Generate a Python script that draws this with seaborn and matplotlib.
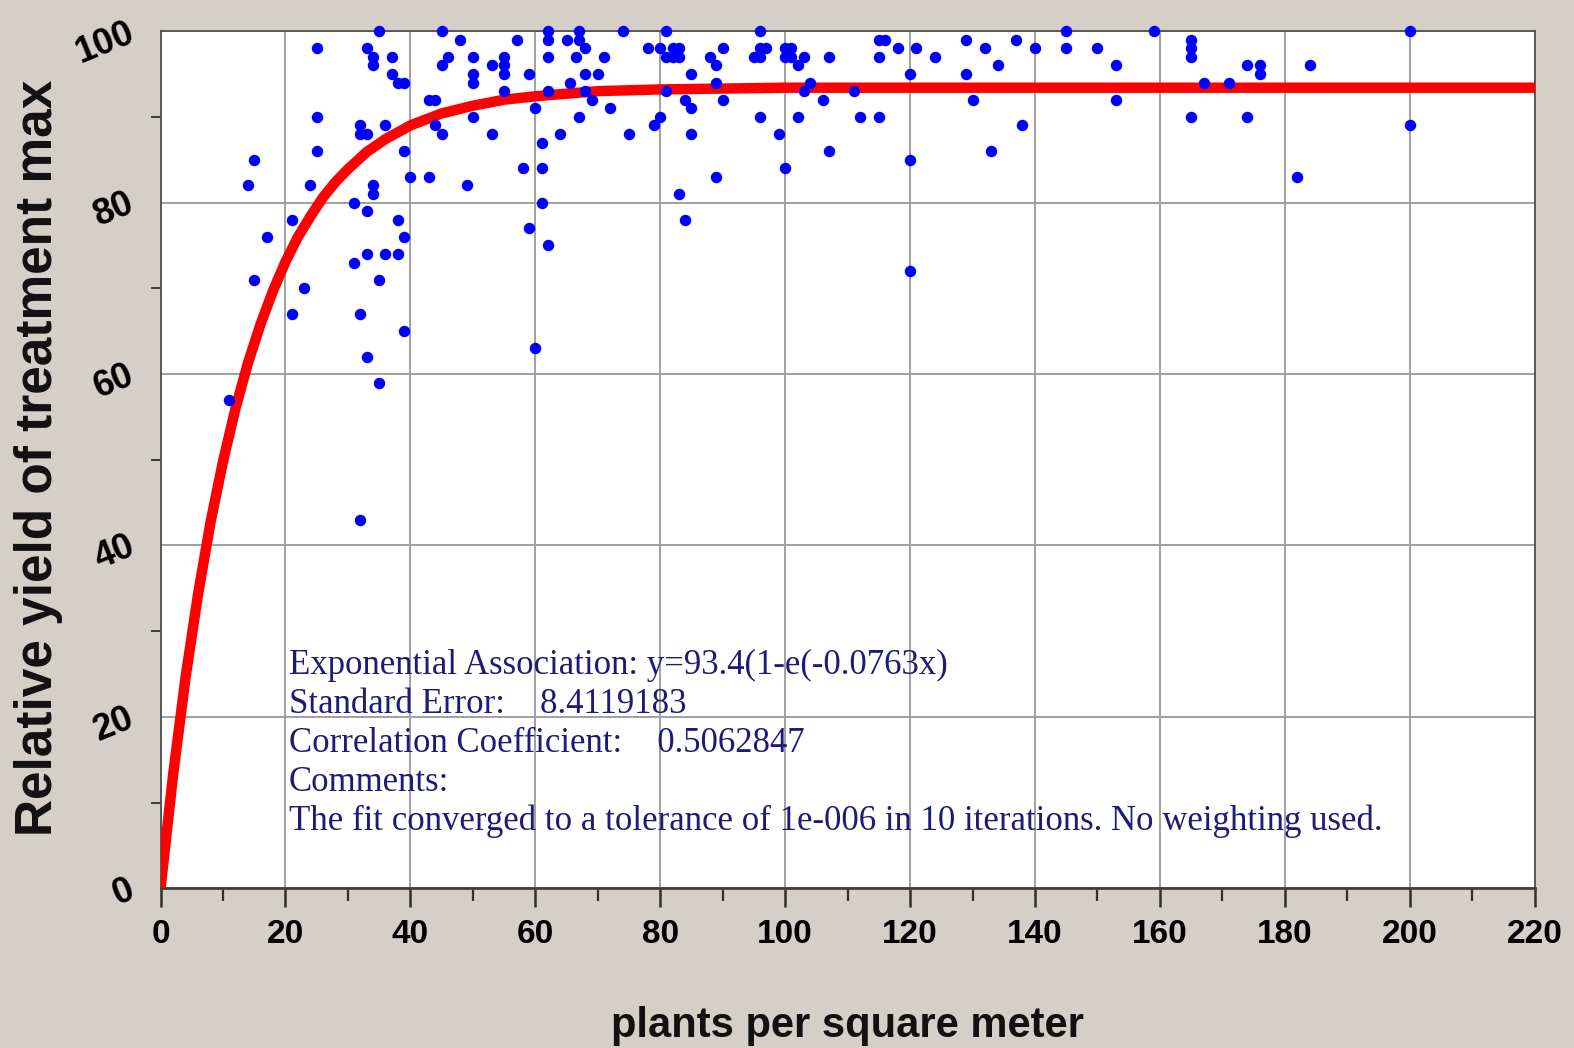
import numpy as np
import pandas as pd
import matplotlib
matplotlib.use('Agg')
import matplotlib.pyplot as plt
import seaborn as sns

# observed points (plants per m2, relative yield %)
density = [11, 14, 15, 15, 17, 21, 21, 23, 24, 25, 25, 25,
           31, 31, 32, 32, 32, 32, 33, 33, 33, 33, 33, 34, 34, 34, 34,
           35, 35, 35, 36, 36, 37, 37, 38, 38, 38, 39, 39, 39, 39, 40,
           43, 43, 44, 44, 45, 45, 45, 46, 48, 49, 50, 50, 50, 50, 53, 53,
           55, 55, 55, 55, 57, 58, 59, 59, 60, 60, 61, 61, 61, 62, 62, 62, 62, 62,
           64, 65, 65.5, 66.5, 67, 67, 67, 68, 68, 68, 69, 70, 71, 72, 74, 75,
           78, 79, 80, 80, 81, 81, 81, 82, 82, 83, 83, 83, 84, 84, 85, 85, 85,
           88, 89, 89, 89, 90, 90, 95, 96, 96, 96, 96, 97, 99, 100, 100, 100,
           101, 101, 102, 102, 103, 103, 104, 106, 107, 107, 111, 112, 115, 116,
           115, 115, 118, 120, 120, 120, 121, 124, 129, 129, 130, 132, 133, 134,
           137, 138, 140, 145, 145, 150, 153, 153, 159, 165, 165, 165, 165, 167,
           171, 174, 174, 176, 176, 182, 184, 200, 200]
rel_yield = [57, 82, 85, 71, 76, 78, 67, 70, 82, 98, 90, 86,
             80, 73, 67, 89, 43, 88, 79, 98, 74, 62, 88, 81, 82, 97, 96,
             100, 59, 71, 74, 89, 97, 95, 74, 78, 94, 94, 86, 76, 65, 83,
             83, 92, 92, 89, 88, 100, 96, 97, 99, 82, 90, 97, 95, 94, 88, 96,
             97, 96, 95, 93, 99, 84, 95, 77, 63, 91, 80, 84, 87, 75, 100, 99, 97, 93,
             88, 99, 94, 97, 100, 90, 99, 98, 95, 93, 92, 95, 97, 91, 100, 88,
             98, 89, 90, 98, 100, 97, 93, 98, 97, 98, 97, 81, 92, 78, 95, 91, 88,
             97, 83, 96, 94, 92, 98, 97, 97, 100, 98, 90, 98, 88, 98, 97, 84,
             97, 98, 90, 96, 97, 93, 94, 92, 97, 86, 93, 90, 99, 99,
             97, 90, 98, 95, 85, 72, 98, 97, 99, 95, 92, 98, 86, 96,
             99, 89, 98, 100, 98, 98, 96, 92, 100, 99, 98, 97, 90, 94,
             94, 96, 90, 96, 95, 83, 96, 100, 89]

# fitted curve: y = 93.4(1-e(-0.0763x))
fit_x = [0, 2, 4, 6, 8, 10, 12, 14, 16, 18, 20, 22, 24, 26, 28, 30, 33, 36,
         40, 45, 50, 55, 60, 70, 80, 100, 120, 160, 200, 220]
fit_y = [0, 13.2, 24.6, 34.3, 42.7, 49.8, 56.0, 61.3, 65.8, 69.7, 73.1, 76.0,
         78.4, 80.6, 82.4, 83.9, 85.9, 87.4, 89.0, 90.4, 91.3, 92.0, 92.4, 93.0,
         93.2, 93.4, 93.4, 93.4, 93.4, 93.4]

fit_text = ["Exponential Association: y=93.4(1-e(-0.0763x)",
            "Standard Error:    8.4119183",
            "Correlation Coefficient:    0.5062847",
            "Comments:",
            "The fit converged to a tolerance of 1e-006 in 10 iterations. No weighting used."]

pts = pd.DataFrame({'density': density, 'yield': rel_yield})
fit = pd.DataFrame({'x': fit_x, 'y': fit_y})

sns.set_style('white')
plt.rcParams['font.family'] = ['Liberation Sans Narrow', 'Liberation Sans', 'DejaVu Sans']

bg = '#d4d0c8'
fig = plt.figure(figsize=(15.74, 10.48), dpi=100, facecolor=bg)
ax = fig.add_axes([0.102, 0.1523, 0.873, 0.818])
ax.set_facecolor('white')

ax.set_xlim(0, 220)
ax.set_ylim(0, 100)
ax.set_xticks(range(0, 221, 20))
ax.set_xticks(range(10, 221, 20), minor=True)
ax.set_yticks(range(0, 101, 20))
ax.set_yticks(range(10, 101, 20), minor=True)
ax.grid(True, which='major', color='#a0a0a0', linewidth=1.4)
ax.set_axisbelow(True)

sns.lineplot(data=fit, x='x', y='y', ax=ax, color='#ff0000', linewidth=7.5,
             sort=False, estimator=None, solid_capstyle='round', zorder=3)
sns.scatterplot(data=pts, x='density', y='yield', ax=ax, color='#0000ff',
                s=68, linewidth=0, zorder=4, clip_on=False)

for sp in ax.spines.values():
    sp.set_color('#505050')
    sp.set_linewidth(1.3)
ax.spines['bottom'].set_linewidth(2)
ax.spines['bottom'].set_color('#404040')

ax.tick_params(axis='x', which='both', bottom=True, direction='out')
ax.tick_params(axis='y', which='both', left=True, direction='out')
ax.tick_params(axis='x', which='major', length=14, width=1.8, color='#303030',
               labelsize=24, pad=8, labelcolor='black')
ax.tick_params(axis='x', which='minor', length=9, width=1.6, color='#303030')
ax.tick_params(axis='y', which='major', length=0, labelsize=26, pad=20,
               labelcolor='black')
ax.tick_params(axis='y', which='minor', length=7, width=1.3, color='#303030')
for lab in ax.get_xticklabels():
    lab.set_fontweight('bold')
for lab in ax.get_yticklabels():
    lab.set_fontweight('bold')
    lab.set_rotation(22)
    lab.set_rotation_mode('anchor')
    lab.set_ha('right')
    lab.set_va('center')

ax.set_xlabel('plants per square meter', fontsize=30, fontweight='bold',
              labelpad=40, color='#111111')
ax.set_ylabel('Relative yield of treatment max', fontsize=37, fontweight='bold',
              color='#111111')
ax.yaxis.set_label_coords(-0.071, 0.502)

ax.text(0.0935, 0.279, '\n'.join(fit_text), transform=ax.transAxes,
        family=['Liberation Serif', 'DejaVu Serif'], fontsize=25,
        color='#1c1c78', va='top', ha='left', linespacing=1.23)

fig.savefig('out.png', dpi=100, facecolor=bg)
plt.close(fig)
